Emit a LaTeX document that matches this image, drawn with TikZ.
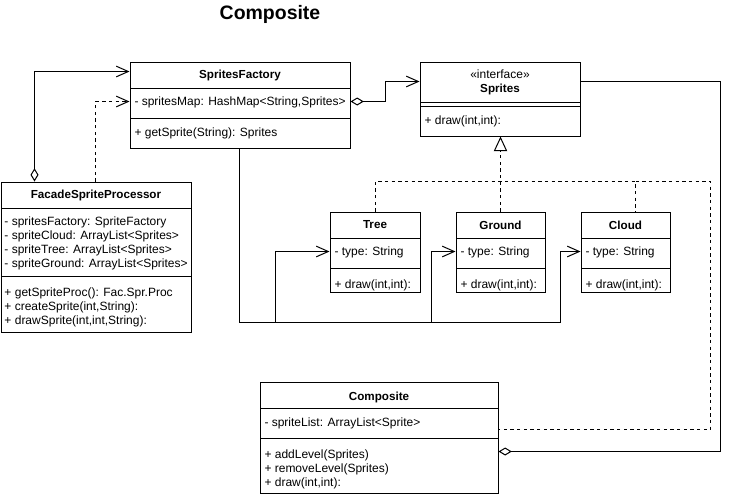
\documentclass[tikz,border=0pt]{standalone}
\usepackage{fontspec}
\setmainfont{Liberation Sans}
\usetikzlibrary{arrows.meta,calc,fit}

\tikzset{
  classbox/.style={draw, inner sep=0pt, fill=white},
  classname/.style={font=\fontsize{8.75}{10}\selectfont\bfseries, inner sep=0pt},
  member/.style={font=\fontsize{9}{10.5}\selectfont, inner sep=0pt, anchor=west, align=left},
  dashline/.style={dash pattern=on 2.5pt off 2.5pt},
  assoc/.style={-{Straight Barb[length=9pt,width=8pt]}},
  aggr/.style={{Diamond[open,length=10pt,width=6pt]}-{Straight Barb[length=9pt,width=8pt]}},
  owns/.style={-{Diamond[open,length=10pt,width=6pt]}},
  dep/.style={dashline, -{Straight Barb[length=9pt,width=8pt]}},
  realize/.style={dashline, -{Triangle[open,length=11pt,width=10pt]}}
}

\begin{document}
\begin{tikzpicture}[x=0.75pt, y=-0.75pt, line width=0.75pt]
  \useasboundingbox (0,0) rectangle (735,496);

  % Title
  \node[font=\fontsize{14.6}{17}\selectfont\bfseries] (title) at (270,14) {Composite};

  % SpritesFactory
  \node[classbox, fit={(130,62) (350,148)}] (fac) {};
  \draw (130,88) -- (350,88);
  \draw (130,118) -- (350,118);
  \node[classname] (facname) at (240,75) {SpritesFactory};
  \node[member] (facattr) at (134,102) {- spritesMap: HashMap<String,Sprites>};
  \node[member] (facop) at (134,133) {+ getSprite(String): Sprites};

  % Sprites (interface)
  \node[classbox, fit={(420,62) (580,136)}] (spr) {};
  \draw (420,102) -- (580,102);
  \draw (420,106) -- (580,106);
  \node[font=\fontsize{9}{10}\selectfont, inner sep=0pt] (sprster) at (500,74) {«interface»};
  \node[classname] (sprname) at (500,89) {Sprites};
  \node[member] (sprop) at (424,121) {+ draw(int,int):};

  % FacadeSpriteProcessor
  \node[classbox, fit={(1,182) (191,332)}] (facade) {};
  \draw (1,208) -- (191,208);
  \draw (1,276) -- (191,276);
  \node[classname] (facadename) at (96,195) {FacadeSpriteProcessor};
  \node[member] (facadeattr) at (4,243) {- spritesFactory: SpriteFactory\\- spriteCloud: ArrayList<Sprites>\\- spriteTree: ArrayList<Sprites>\\- spriteGround: ArrayList<Sprites>};
  \node[member] (facadeop) at (4,307.5) {+ getSpriteProc(): Fac.Spr.Proc\\+ createSprite(int,String):\\+ drawSprite(int,int,String):};

  % Tree
  \node[classbox, fit={(330,212) (420,292)}] (tree) {};
  \draw (330,238) -- (420,238);
  \draw (330,268) -- (420,268);
  \node[classname] (treename) at (375,225) {Tree};
  \node[member] (treeattr) at (334,252) {- type: String};
  \node[member] (treeop) at (334,285) {+ draw(int,int):};

  % Ground
  \node[classbox, fit={(456,212) (545,292)}] (ground) {};
  \draw (456,238) -- (545,238);
  \draw (456,268) -- (545,268);
  \node[classname] (groundname) at (500.5,225) {Ground};
  \node[member] (groundattr) at (460,252) {- type: String};
  \node[member] (groundop) at (460,285) {+ draw(int,int):};

  % Cloud
  \node[classbox, fit={(581,212) (670,292)}] (cloud) {};
  \draw (581,238) -- (670,238);
  \draw (581,268) -- (670,268);
  \node[classname] (cloudname) at (625.5,225) {Cloud};
  \node[member] (cloudattr) at (585,252) {- type: String};
  \node[member] (cloudop) at (585,285) {+ draw(int,int):};

  % Composite
  \node[classbox, fit={(260,382) (498,493)}] (comp) {};
  \draw (260,408) -- (498,408);
  \draw (260,438) -- (498,438);
  \node[classname] (compname) at (379,397) {Composite};
  \node[member] (compattr) at (264,423) {- spriteList: ArrayList<Sprite>};
  \node[member] (compop) at (264,469.5) {+ addLevel(Sprites)\\+ removeLevel(Sprites)\\+ draw(int,int):};

  % Facade -> SpritesFactory
  \draw[aggr] ($(facade.north west)+(34,0)$) |- ($(fac.north west)+(0,10)$);
  \draw[dep] ($(facade.north west)+(95,0)$) |- ($(fac.north west)+(0,40)$);

  % SpritesFactory -> Sprites
  \draw[aggr] ($(fac.north east)+(0,40)$) -- ++(35,0) |- ($(spr.north west)+(0,20)$);

  % SpritesFactory -> Tree, Ground, Cloud
  \coordinate (jtree) at (275,322);
  \coordinate (jground) at (431,322);
  \draw[assoc] ($(fac.south west)+(110,0)$) |- ($(cloud.south west)+(-20,30)$) |- ($(cloud.north west)+(0,40)$);
  \draw[assoc] (jtree) |- ($(tree.north west)+(0,40)$);
  \draw[assoc] (jground) |- ($(ground.north west)+(0,40)$);

  % realization of Sprites
  \draw[realize] (ground.north) -- (ground.north |- spr.south);
  \draw[dashline] (tree.north) -- ++(0,-30) -| ($(cloud.north)+(10,0)$);
  \draw[dashline] ($(cloud.north)+(10,-30)$) -- ++(75,0) |- ($(comp.north east)+(0,48)$);

  % Sprites -> Composite
  \draw[owns] ($(spr.north east)+(0,20)$) -- ++(140,0) |- ($(comp.north east)+(0,70)$);
\end{tikzpicture}
\end{document}
